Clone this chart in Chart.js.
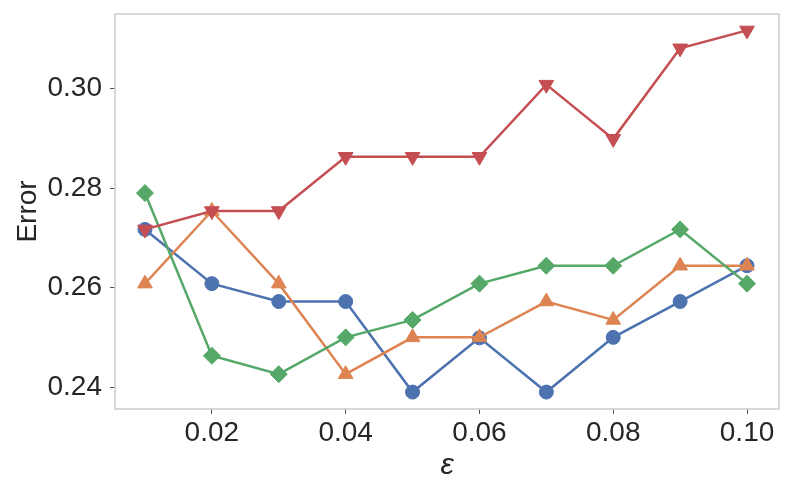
<!DOCTYPE html>
<html>
<head>
<meta charset="utf-8">
<script src="https://cdn.jsdelivr.net/npm/chart.js@4"></script>
<style>
  html, body { margin: 0; padding: 0; background: #fff; }
  #wrap { width: 793px; height: 496px; }
</style>
</head>
<body>
<div id="wrap"><canvas id="chart" width="793" height="496"></canvas></div>
<script>
// Data
const epsilons = [0.01, 0.02, 0.03, 0.04, 0.05, 0.06, 0.07, 0.08, 0.09, 0.10];
const blueErr   = [0.2717, 0.2608, 0.2572, 0.2572, 0.2390, 0.2499, 0.2390, 0.2500, 0.2572, 0.2644];
const orangeErr = [0.2608, 0.2754, 0.2608, 0.2426, 0.2500, 0.2500, 0.2572, 0.2535, 0.2644, 0.2644];
const greenErr  = [0.2790, 0.2463, 0.2426, 0.2500, 0.2535, 0.2608, 0.2644, 0.2644, 0.2717, 0.2608];
const redErr    = [0.2717, 0.2754, 0.2754, 0.2863, 0.2863, 0.2863, 0.3008, 0.2899, 0.3081, 0.3117];
const xTicks = [0.02, 0.04, 0.06, 0.08, 0.10];
const yTicks = [0.24, 0.26, 0.28, 0.30];

const textColor = "#262626";
const frameColor = "#cccccc";
const fontFamily = "'Liberation Sans', Arial, sans-serif";

function series(values, color, style, radius, rotation, order) {
  return {
    data: epsilons.map((x, i) => ({ x: x, y: values[i] })),
    borderColor: color,
    backgroundColor: color,
    borderWidth: 2.5,
    pointStyle: style,
    pointRadius: radius,
    pointRotation: rotation,
    pointBorderWidth: 1,
    pointBorderColor: color,
    pointBackgroundColor: color,
    tension: 0,
    order: order
  };
}

// Box around the plot area
const frame = {
  id: "frame",
  afterDraw(chart) {
    const a = chart.chartArea;
    const c = chart.ctx;
    c.save();
    c.strokeStyle = frameColor;
    c.lineWidth = 1.5;
    c.strokeRect(a.left, a.top, a.right - a.left, a.bottom - a.top);
    c.restore();
  }
};

const ctx = document.getElementById("chart").getContext("2d");
new Chart(ctx, {
  type: "line",
  data: {
    datasets: [
      series(blueErr, "#4C72B0", "circle", 7, 0, 3),
      series(orangeErr, "#DD8452", "triangle", 8.5, 0, 2),
      series(greenErr, "#55A868", "rectRot", 8.5, 0, 1),
      series(redErr, "#C44E52", "triangle", 8.5, 180, 0)
    ]
  },
  options: {
    responsive: false,
    animation: false,
    layout: { padding: { top: 14, right: 14 } },
    plugins: { legend: { display: false }, tooltip: { enabled: false } },
    scales: {
      x: {
        type: "linear",
        min: 0.00552,
        max: 0.10478,
        afterFit: (s) => { s.height = 87; s.paddingLeft = 0; s.paddingRight = 0; },
        afterBuildTicks: (s) => { s.ticks = xTicks.map((v) => ({ value: v })); },
        grid: { drawOnChartArea: false, drawTicks: true, tickLength: 5, color: "#555", tickWidth: 1 },
        border: { display: false },
        ticks: {
          color: textColor,
          padding: 2,
          font: { family: fontFamily, size: 28 },
          callback: (v) => v.toFixed(2)
        },
        title: {
          display: true,
          text: "ε",
          color: textColor,
          padding: { top: 0, bottom: 12 },
          font: { family: fontFamily, size: 30, style: "italic" }
        }
      },
      y: {
        min: 0.2356,
        max: 0.315,
        afterFit: (s) => { s.width = 115; s.paddingTop = 0; s.paddingBottom = 0; },
        afterBuildTicks: (s) => { s.ticks = yTicks.map((v) => ({ value: v })); },
        grid: { drawOnChartArea: false, drawTicks: true, tickLength: 5, color: "#555", tickWidth: 1 },
        border: { display: false },
        ticks: {
          color: textColor,
          padding: 8,
          font: { family: fontFamily, size: 28 },
          callback: (v) => v.toFixed(2)
        },
        title: {
          display: true,
          text: "Error",
          color: textColor,
          padding: { top: 11, bottom: 0 },
          font: { family: fontFamily, size: 28 }
        }
      }
    }
  },
  plugins: [frame]
});
</script>
</body>
</html>
